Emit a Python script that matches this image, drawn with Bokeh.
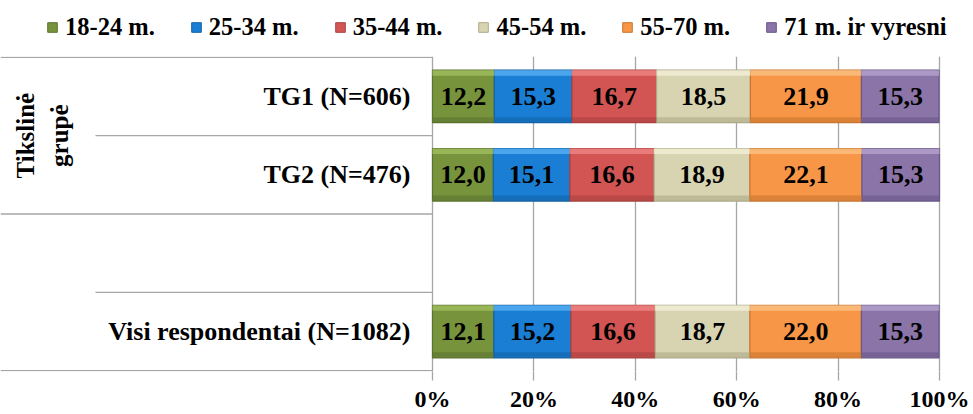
import numpy as np
from bokeh.plotting import figure
from bokeh.layouts import column
from bokeh.models import (Range1d, FixedTicker, PrintfTickFormatter, Legend,
                          LegendItem, ColumnDataSource)
from bokeh.core.properties import value
from bokeh.embed import file_html
from bokeh.resources import INLINE

# ---------------- data ----------------
rows = ["TG1 (N=606)", "TG2 (N=476)", "Visi respondentai (N=1082)"]
row_slots = [0, 1, 3]          # slot index from the top (slot 2 is an empty row)
n_slots = 4
groups = [("Tikslinė\ngrupė", [0, 1]), ("", [2, 3])]

age_groups = ["18-24 m.", "25-34 m.", "35-44 m.", "45-54 m.", "55-70 m.", "71 m. ir vyresni"]
v_18_24 = [12.2, 12.0, 12.1]
v_25_34 = [15.3, 15.1, 15.2]
v_35_44 = [16.7, 16.6, 16.6]
v_45_54 = [18.5, 18.9, 18.7]
v_55_70 = [21.9, 22.1, 22.0]
v_71 = [15.3, 15.3, 15.3]
series = [v_18_24, v_25_34, v_35_44, v_45_54, v_55_70, v_71]

x_ticks = [0, 20, 40, 60, 80, 100]

colors = ["#77933C", "#1A7FD4", "#D25553", "#D8D4B2", "#F79646", "#8A74A8"]
lights = ["#A3C160", "#5CB3F5", "#F08A88", "#F4F1D8", "#FCC48A", "#B8A6D0"]
edges = ["#5B7330", "#1262A6", "#A8403E", "#ADA886", "#C9752F", "#695688"]

FONT = "Liberation Serif"

# ---------------- layout ----------------
W = 973
LEG_H = 56
H = 358
BOTTOM = 41
ZERO_PX, FULL_PX = 432, 939          # figure px of 0% and 100%
ppu = (FULL_PX - ZERO_PX) / 100.0
x_start = -ZERO_PX / ppu
x_end = (W - ZERO_PX) / ppu
def px_to_x(px):
    return (px - ZERO_PX) / ppu

p = figure(width=W, height=H, output_backend="svg", toolbar_location=None,
           x_range=Range1d(x_start, x_end), y_range=Range1d(-0.01, n_slots + 0.01),
           y_axis_location=None, min_border_left=0, min_border_right=0,
           min_border_top=0, min_border_bottom=BOTTOM)
p.outline_line_color = None
p.background_fill_color = "white"
p.border_fill_color = "white"
p.ygrid.visible = False
p.xgrid.ticker = FixedTicker(ticks=x_ticks)
p.xgrid.grid_line_color = "#A6A6A6"
p.xgrid.grid_line_width = 1.3

ax = p.xaxis[0]
ax.ticker = FixedTicker(ticks=x_ticks)
ax.formatter = PrintfTickFormatter(format="%d%%")
ax.axis_line_color = None
ax.major_tick_out = 9
ax.major_tick_in = 0
ax.major_tick_line_color = "#A6A6A6"
ax.major_tick_line_width = 1.3
ax.minor_tick_line_color = None
ax.major_label_standoff = 5
ax.major_label_text_font = FONT
ax.major_label_text_font_style = "bold"
ax.major_label_text_font_size = "24px"
ax.major_label_text_color = "black"

# ---------------- category separators (left) ----------------
def slot_y(s):
    return n_slots - s - 0.5

group_edges = set()
for _, sl in groups:
    group_edges.add(min(sl))
    group_edges.add(max(sl) + 1)
inner_start = px_to_x(95)
sx0, sx1, sy = [], [], []
for k in range(n_slots + 1):
    sx0.append(x_start if k in group_edges else inner_start)
    sx1.append(0)
    sy.append(n_slots - k)
p.segment(x0=sx0, x1=sx1, y0=sy, y1=sy, line_color="#A6A6A6", line_width=1.3)

# ---------------- bars ----------------
BAR_H = 0.67
keys = [f"s{i}" for i in range(len(series))]
ys = [slot_y(s) for s in row_slots]
data = dict(y=ys,
            y_top=[y + BAR_H / 2 - 0.035 for y in ys],
            y_bot=[y - BAR_H / 2 + 0.035 for y in ys])
for k, v in zip(keys, series):
    data[k] = v
src = ColumnDataSource(data)
rs = p.hbar_stack(keys, y="y", height=BAR_H, fill_color=colors, line_color=edges,
                  line_width=1.2, source=src)
# bevel: light band on top, dark band at the bottom
p.hbar_stack(keys, y="y_top", height=0.07, fill_color=lights, fill_alpha=0.75,
             line_color=None, source=src)
p.hbar_stack(keys, y="y_bot", height=0.07, fill_color=edges, fill_alpha=0.6,
             line_color=None, source=src)

# value labels
arr = np.array(series)
cum = np.cumsum(arr, axis=0)
mids = cum - arr / 2
lx, ly, lt = [], [], []
for i in range(arr.shape[0]):
    for j in range(arr.shape[1]):
        lx.append(float(mids[i, j]))
        ly.append(slot_y(row_slots[j]))
        lt.append(f"{arr[i, j]:.1f}".replace(".", ","))
p.text(x=lx, y=ly, text=lt, text_align="center", text_baseline="middle",
       text_font=value(FONT), text_font_style="bold", text_font_size="26px",
       text_color="black")

# category labels
p.text(x=[0] * len(rows), y=[slot_y(s) for s in row_slots], text=rows,
       x_offset=-22, text_align="right", text_baseline="middle",
       text_font=value(FONT), text_font_style="bold", text_font_size="26px",
       text_color="black")

# group labels (one text per line, rotated)
gx, gy, gt = [], [], []
for name, sl in groups:
    if name:
        lines = name.split("\n")
        for li, line in enumerate(lines):
            gx.append(px_to_x(25 + 34 * li))
            gy.append(n_slots - (min(sl) + max(sl) + 1) / 2)
            gt.append(line)
p.text(x=gx, y=gy, text=gt, angle=np.pi / 2, text_align="center",
       text_baseline="middle", text_font=value(FONT), text_font_style="bold",
       text_font_size="25px", text_color="black")

# ---------------- legend (own strip on top) ----------------
lf = figure(width=W, height=LEG_H, output_backend="svg", toolbar_location=None,
            x_range=Range1d(0, 1), y_range=Range1d(0, 1),
            x_axis_location=None, y_axis_location=None,
            min_border_left=0, min_border_right=0, min_border_top=0, min_border_bottom=0)
lf.outline_line_color = None
lf.xgrid.visible = False
lf.ygrid.visible = False
# swatch renderers sit outside the visible range; only their legend glyphs show
leg_rs = [lf.hbar(y=[-5], right=[1], height=0.1, fill_color=c, line_color=e, line_width=1)
          for c, e in zip(colors, edges)]
legend = Legend(items=[LegendItem(label=n, renderers=[r]) for n, r in zip(age_groups, leg_rs)],
                orientation="horizontal", location=(46, 15),
                glyph_width=12, glyph_height=12, label_standoff=7, spacing=35,
                padding=10, margin=0, border_line_color=None,
                background_fill_alpha=0,
                label_text_font=FONT, label_text_font_style="bold",
                label_text_font_size="24.5px", label_text_color="black")
lf.add_layout(legend)

layout = column(lf, p, spacing=0)
open("out.html", "w").write(file_html(layout, INLINE))
